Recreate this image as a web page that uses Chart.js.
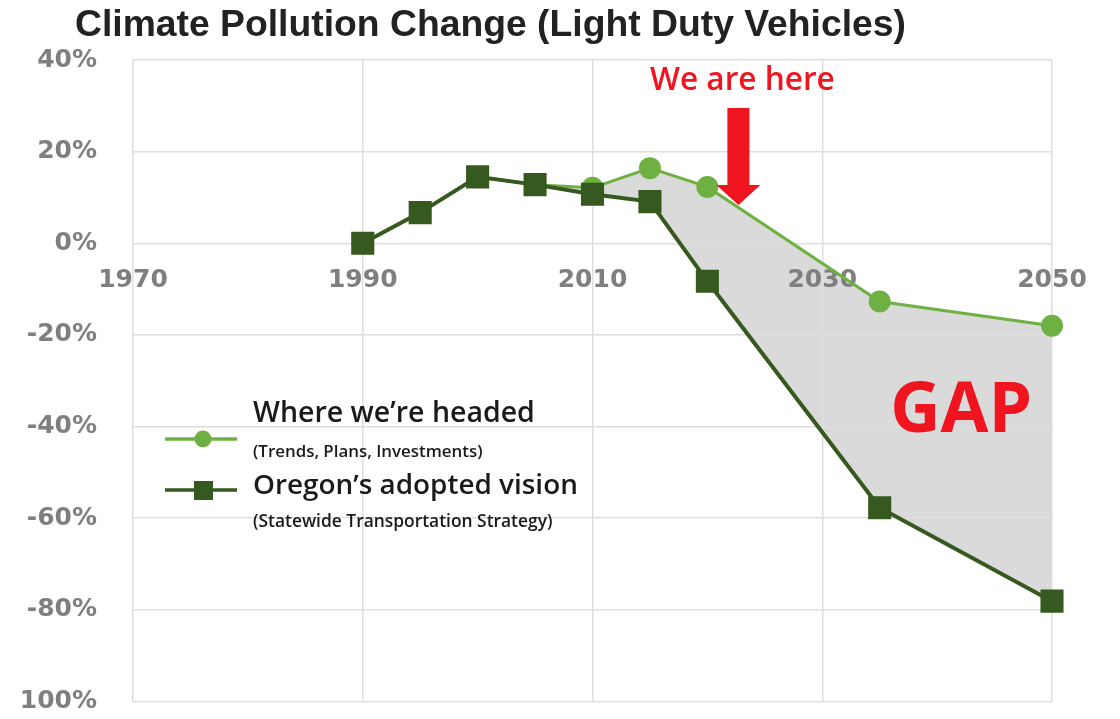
<!DOCTYPE html>
<html>
<head>
<meta charset="utf-8">
<script src="https://cdn.jsdelivr.net/npm/chart.js@4.4.1/dist/chart.umd.min.js"></script>
<style>
  html, body { margin: 0; padding: 0; background: #fff; }
  #wrap { width: 1120px; height: 719px; position: relative; }
</style>
</head>
<body>
<div id="wrap"><canvas id="chart"></canvas></div>
<script>
//
// Data
//
const years = [1990, 1995, 2000, 2005, 2010, 2015, 2020, 2035, 2050];
const headed = [0, 6.7, 14.5, 12.8, 12.1, 16.4, 12.3, -12.7, -18];
const vision = [0, 6.7, 14.5, 12.8, 10.7, 9.1, -8.3, -57.7, -78.1];
const xTicks = [1970, 1990, 2010, 2030, 2050];
const yTicks = [40, 20, 0, -20, -40, -60, -80, -100];

const TITLE = 'Climate Pollution Change (Light Duty Vehicles)';
const HEADED_LABEL = 'Where we\u2019re headed';
const HEADED_SUB = '(Trends, Plans, Investments)';
const VISION_LABEL = 'Oregon\u2019s adopted vision';
const VISION_SUB = '(Statewide Transportation Strategy)';

const LIGHT_GREEN = '#6fb043';
const DARK_GREEN = '#36591f';
const RED = '#f0141e';

// size a font so the text spans a given width
function fitFont(ctx, text, width, weight, family) {
  ctx.font = weight + ' 100px ' + family;
  let size = 100 * width / ctx.measureText(text).width;
  return weight + ' ' + size.toFixed(1) + 'px ' + family;
}

//
// Annotations (title, legend, arrow, GAP)
//
const annotations = {
  id: 'annotations',
  afterDraw(chart) {
    const ctx = chart.ctx;
    const xs = chart.scales.x;
    const ys = chart.scales.y;
    ctx.save();

    // title
    ctx.fillStyle = '#222';
    ctx.textBaseline = 'alphabetic';
    ctx.textAlign = 'left';
    ctx.font = fitFont(ctx, TITLE, 830, 'bold', '"Liberation Sans", Arial, sans-serif');
    ctx.fillText(TITLE, 75, 36);

    // legend
    const legendFont = '"Open Sans", "Noto Sans", sans-serif';
    let lx0 = 165, lx1 = 237, tx = 253;
    // where we're headed
    ctx.strokeStyle = LIGHT_GREEN;
    ctx.lineWidth = 3.5;
    ctx.beginPath(); ctx.moveTo(lx0, 439); ctx.lineTo(lx1, 439); ctx.stroke();
    ctx.fillStyle = LIGHT_GREEN;
    ctx.beginPath(); ctx.arc(203, 439, 8.5, 0, Math.PI * 2); ctx.fill();
    ctx.fillStyle = '#1a1a1a';
    ctx.font = fitFont(ctx, HEADED_LABEL, 282, '600', legendFont);
    ctx.fillText(HEADED_LABEL, tx, 422);
    ctx.font = fitFont(ctx, HEADED_SUB, 230, '600', legendFont);
    ctx.fillText(HEADED_SUB, tx, 457);
    // oregon's adopted vision
    ctx.strokeStyle = DARK_GREEN;
    ctx.beginPath(); ctx.moveTo(lx0, 490); ctx.lineTo(lx1, 490); ctx.stroke();
    ctx.fillStyle = DARK_GREEN;
    ctx.fillRect(194, 481, 19, 19);
    ctx.fillStyle = '#1a1a1a';
    ctx.font = fitFont(ctx, VISION_LABEL, 325, '600', legendFont);
    ctx.fillText(VISION_LABEL, tx, 494);
    ctx.font = fitFont(ctx, VISION_SUB, 299, '600', legendFont);
    ctx.fillText(VISION_SUB, tx, 527);

    // we are here
    ctx.fillStyle = RED;
    ctx.textAlign = 'center';
    ctx.font = fitFont(ctx, 'We are here', 185, '600', legendFont);
    ctx.fillText('We are here', xs.getPixelForValue(2023.05), 90);
    let ax = xs.getPixelForValue(2022.7);
    let top = 108, neck = 185, tip = 205;
    ctx.beginPath();
    ctx.moveTo(ax - 11, top);
    ctx.lineTo(ax + 11, top);
    ctx.lineTo(ax + 11, neck);
    ctx.lineTo(ax + 22, neck);
    ctx.lineTo(ax, tip);
    ctx.lineTo(ax - 22, neck);
    ctx.lineTo(ax - 11, neck);
    ctx.closePath();
    ctx.fill();

    // GAP
    ctx.font = fitFont(ctx, 'GAP', 142, 'bold', '"Open Sans", sans-serif');
    ctx.fillText('GAP', xs.getPixelForValue(2042.1), ys.getPixelForValue(-41) + 1);

    ctx.restore();
  }
};

//
// Chart
//
const ctx = document.getElementById('chart').getContext('2d');
new Chart(ctx, {
  type: 'line',
  data: {
    datasets: [{
      label: HEADED_LABEL,
      data: years.map((y, i) => ({ x: y, y: headed[i] })),
      borderColor: LIGHT_GREEN,
      backgroundColor: '#dadada',
      pointBackgroundColor: LIGHT_GREEN,
      pointBorderColor: LIGHT_GREEN,
      pointStyle: 'circle',
      pointRadius: 9.5,
      borderWidth: 3,
      tension: 0,
      clip: false,
      fill: { target: 1 },
      order: 1
    }, {
      label: VISION_LABEL,
      data: years.map((y, i) => ({ x: y, y: vision[i] })),
      borderColor: DARK_GREEN,
      backgroundColor: DARK_GREEN,
      pointBackgroundColor: DARK_GREEN,
      pointBorderColor: DARK_GREEN,
      pointStyle: 'rect',
      pointRadius: 13.5,
      borderWidth: 4,
      tension: 0,
      clip: false,
      fill: false,
      order: 0
    }]
  },
  options: {
    responsive: true,
    maintainAspectRatio: false,
    animation: false,
    layout: { padding: { top: 60, left: 20, right: 68, bottom: 10 } },
    plugins: {
      legend: { display: false },
      title: { display: false },
      tooltip: { enabled: false },
      filler: { drawTime: 'beforeDraw' }
    },
    scales: {
      x: {
        type: 'linear',
        position: { y: 0 },
        min: 1970,
        max: 2050,
        afterBuildTicks: (scale) => { scale.ticks = xTicks.map(v => ({ value: v })); },
        afterFit: (scale) => { scale.height = 0; scale.paddingLeft = 0; scale.paddingRight = 0; },
        ticks: {
          padding: 22,
          color: '#7f7f7f',
          font: { family: '"DejaVu Sans", sans-serif', weight: 'bold', size: 25 },
          callback: (v) => String(v),
          maxRotation: 0
        },
        grid: { color: '#dedede', lineWidth: 1.5, drawTicks: false },
        border: { display: false }
      },
      y: {
        min: -100,
        max: 40,
        afterBuildTicks: (scale) => { scale.ticks = yTicks.map(v => ({ value: v })); },
        afterFit: (scale) => { scale.width = 113; scale.paddingTop = 0; scale.paddingBottom = 0; },
        ticks: {
          padding: 36,
          color: '#7f7f7f',
          font: { family: '"DejaVu Sans", sans-serif', weight: 'bold', size: 25 },
          callback: (v) => (v === -100 ? '100%' : v + '%')
        },
        grid: { color: '#dedede', lineWidth: 1.5, drawTicks: false },
        border: { display: false }
      }
    }
  },
  plugins: [annotations]
});
</script>
</body>
</html>
